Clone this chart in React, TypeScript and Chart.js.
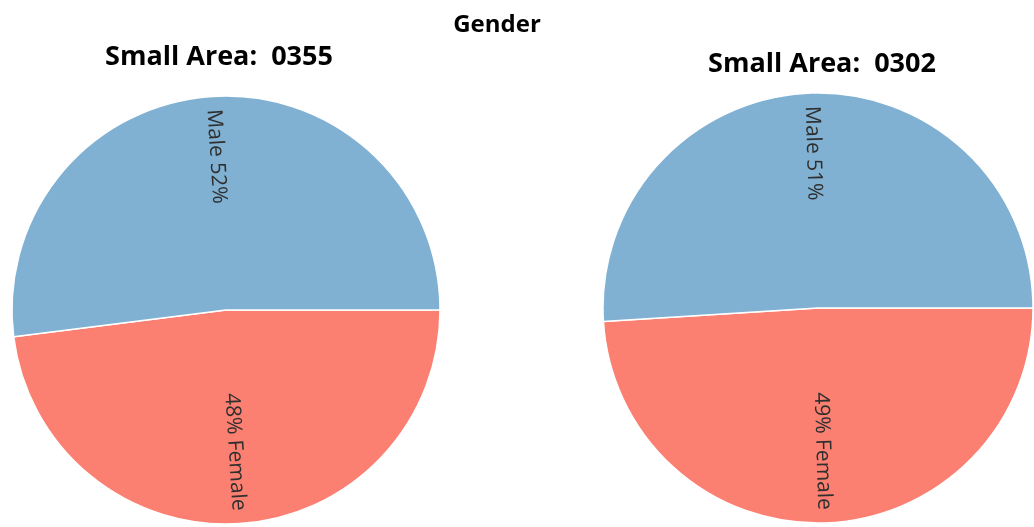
import React, { useEffect, useRef } from "react";
import { Chart, registerables } from "chart.js";

Chart.register(...registerables);

// Gender split per small area (percent)
const categories = ["Female", "Male"];
const area0355Values = [48, 52];
const area0302Values = [49, 51];
const sliceColors = ["#FB8072", "#80B1D3"];

const pageTitle = "Gender";
const area0355Title = "Small Area:  0355";
const area0302Title = "Small Area:  0302";

const FONT = "'Open Sans', 'Noto Sans', sans-serif";

// Writes "Male 52%" / "48% Female" along each slice's radius, reading top to bottom,
// with the outer end of the text kept just inside the rim.
const radialLabels = {
  id: "radialLabels",
  afterDatasetsDraw(chart: any) {
    const ctx = chart.ctx as CanvasRenderingContext2D;
    const meta = chart.getDatasetMeta(0);
    const values = chart.data.datasets[0].data as number[];
    const names = chart.data.labels as string[];
    ctx.save();
    ctx.font = `21px ${FONT}`;
    ctx.fillStyle = "#2f2f2f";
    ctx.textBaseline = "middle";
    meta.data.forEach((arc: any, i: number) => {
      const { x, y, startAngle, endAngle, outerRadius } = arc.getProps(
        ["x", "y", "startAngle", "endAngle", "outerRadius"],
        true
      );
      const mid = (startAngle + endAngle) / 2;
      let rot = mid;
      while (rot > Math.PI / 2) rot -= Math.PI;
      while (rot <= -Math.PI / 2) rot += Math.PI;
      const outward = Math.cos(rot) * Math.cos(mid) + Math.sin(rot) * Math.sin(mid) > 0;
      const name = names[i];
      const pct = `${values[i]}%`;
      const text = outward ? `${pct} ${name}` : `${name} ${pct}`;
      const r = outerRadius - 13;
      ctx.save();
      ctx.translate(x + Math.cos(mid) * r, y + Math.sin(mid) * r);
      ctx.rotate(rot);
      ctx.textAlign = outward ? "right" : "left";
      ctx.fillText(text, 0, 0);
      ctx.restore();
    });
    ctx.restore();
  },
};

function GenderPie(props: {
  values: number[];
  left: number;
  width: number;
  padTop: number;
  radius: number;
}) {
  const ref = useRef<HTMLCanvasElement | null>(null);
  useEffect(() => {
    if (!ref.current) return;
    const chart = new Chart(ref.current, {
      type: "pie",
      data: {
        labels: categories,
        datasets: [
          {
            data: props.values,
            backgroundColor: sliceColors,
            borderColor: "#ffffff",
            borderWidth: 1.5,
          },
        ],
      },
      options: {
        responsive: false,
        animation: false,
        rotation: 90,
        radius: props.radius,
        layout: { padding: { top: props.padTop, left: 0, right: 0, bottom: 0 } },
        plugins: {
          legend: { display: false },
          tooltip: { enabled: false },
          title: { display: false },
        },
      },
      plugins: [radialLabels],
    });
    return () => chart.destroy();
  }, []);
  return (
    <canvas
      ref={ref}
      width={props.width}
      height={527}
      style={{
        position: "absolute",
        left: props.left,
        top: 0,
        width: props.width,
        height: 527,
      }}
    />
  );
}

const headingStyle: React.CSSProperties = {
  position: "absolute",
  fontFamily: FONT,
  fontWeight: 700,
  color: "#000",
  textAlign: "center",
  whiteSpace: "pre",
};

export default function App() {
  return (
    <div
      style={{
        position: "absolute",
        left: 0,
        top: 0,
        width: 1034,
        height: 527,
        overflow: "hidden",
        background: "#ffffff",
      }}
    >
      <GenderPie values={area0355Values} left={0} width={452} padTop={93} radius={214} />
      <GenderPie values={area0302Values} left={602} width={432} padTop={89} radius={215} />
      <div style={{ ...headingStyle, left: 0, width: 994, top: 11, fontSize: 24, lineHeight: "24px" }}>
        {pageTitle}
      </div>
      <div style={{ ...headingStyle, left: 0, width: 438, top: 41, fontSize: 27, lineHeight: "27px" }}>
        {area0355Title}
      </div>
      <div style={{ ...headingStyle, left: 610, width: 424, top: 48, fontSize: 27, lineHeight: "27px" }}>
        {area0302Title}
      </div>
    </div>
  );
}
